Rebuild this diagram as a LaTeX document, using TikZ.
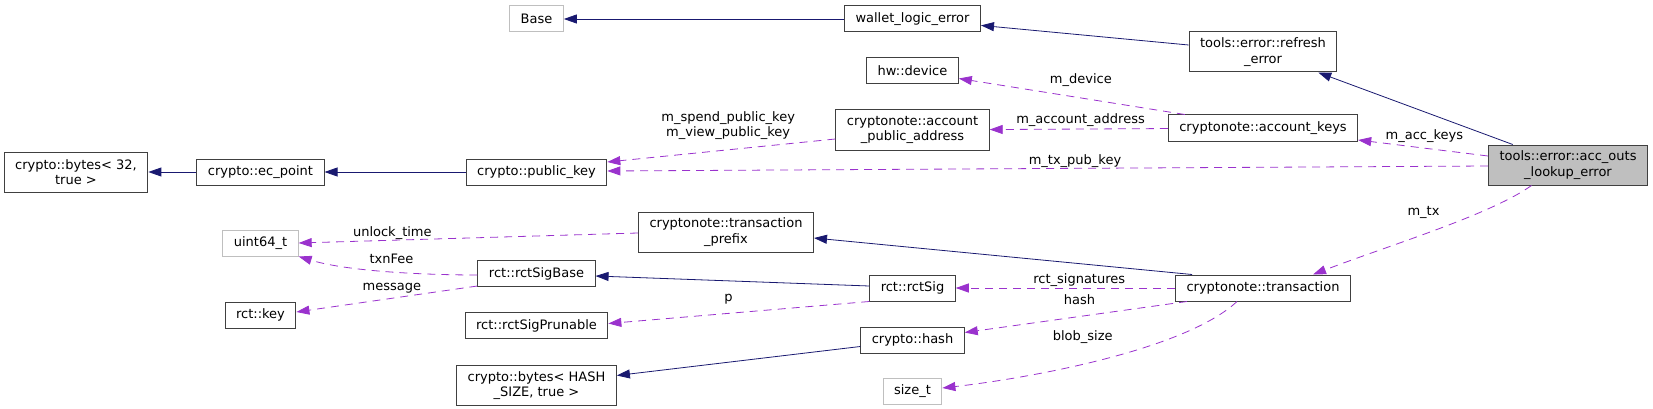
\documentclass[tikz,border=0pt]{standalone}
\usepackage{fontspec}
\setmainfont{DejaVu Sans}
\usetikzlibrary{arrows.meta, positioning}
\definecolor{inheritblue}{HTML}{191970}
\definecolor{memberpurple}{HTML}{9A32CD}
\definecolor{undocgray}{HTML}{BFBFBF}

\begin{document}
\begin{tikzpicture}[
        x=1pt, y=-1pt,
        box/.style={draw=black!75, line width=1pt, minimum height=26pt, inner xsep=11pt, inner ysep=2pt, align=center, fill=white, font=\fontsize{13}{15.5}\selectfont},
        twoline/.style={box, minimum height=40pt},
        undoc/.style={box, draw=undocgray},
        focus/.style={twoline, fill=undocgray},
        inherit/.style={-{Triangle[length=13pt, width=9pt]}, line width=0.8pt, draw=inheritblue},
        member/.style={-{Triangle[length=13pt, width=9pt]}, dash pattern=on 8pt off 6pt, line width=0.8pt, draw=memberpurple},
        lbl/.style={font=\fontsize{13}{15.5}\selectfont, inner sep=0pt, align=center}
    ]
    \useasboundingbox (0,0) rectangle (1653,409);

    \node[twoline] (bytes32) at (76,172) {crypto::bytes< 32,\\true >};
    \node[box] (ecpoint) at (260.5,172) {crypto::ec\_point};
    \node[undoc, below=44pt of ecpoint] (uint64) {uint64\_t};
    \node[box, below=45pt of uint64] (rctkey) {rct::key};

    \node[undoc] (base) at (536.5,19) {Base};
    \node[box] (pubkey) at (536.5,172) {crypto::public\_key};
    \node[box] (sigbase) at (536.5,273.5) {rct::rctSigBase};
    \node[box, below=25pt of sigbase] (prunable) {rct::rctSigPrunable};
    \node[twoline, below=26pt of prunable] (byteshash) {crypto::bytes< HASH\\\_SIZE, true >};

    \node[twoline] (txprefix) at (726,232) {cryptonote::transaction\\\_prefix};

    \node[box] (wlerror) at (912.5,19) {wallet\_logic\_error};
    \node[box, below=25pt of wlerror] (hwdevice) {hw::device};
    \node[twoline, below=25pt of hwdevice] (pubaddr) {cryptonote::account\\\_public\_address};
    \node[box] (rctsig) at (912.5,288) {rct::rctSig};
    \node[box, below=25pt of rctsig] (cryptohash) {crypto::hash};
    \node[undoc, below=24pt of cryptohash] (sizet) {size\_t};

    \node[twoline] (refresh) at (1263,52) {tools::error::refresh\\\_error};
    \node[box] (acckeys) at (1263,128) {cryptonote::account\_keys};
    \node[box] (tx) at (1263,288) {cryptonote::transaction};

    \node[focus] (lookuperr) at (1568,165) {tools::error::acc\_outs\\\_lookup\_error};

    \draw[inherit] (wlerror) -- (base);
    \draw[inherit] (refresh) -- (wlerror);
    \draw[inherit] (lookuperr) -- (refresh);
    \draw[inherit] (ecpoint) -- (bytes32);
    \draw[inherit] (pubkey) -- (ecpoint);
    \draw[inherit] ([xshift=17pt]tx.north west) -- ([yshift=-6pt]txprefix.east);
    \draw[inherit] ([yshift=2pt]rctsig.west) -- ([yshift=-2.5pt]sigbase.east);
    \draw[inherit] ([yshift=-6.5pt]cryptohash.west) -- ([yshift=10pt]byteshash.east);

    \draw[member] ([xshift=17pt]acckeys.north west) -- node[lbl, pos=0.46, yshift=18pt] {m\_device} ([yshift=-7.5pt]hwdevice.east);
    \draw[member] (acckeys) -- node[lbl, pos=0.49, yshift=9pt] {m\_account\_address} (pubaddr);
    \draw[member] ([yshift=-9pt]pubaddr.west) -- node[lbl, pos=0.47, yshift=24pt] {m\_spend\_public\_key\\m\_view\_public\_key} ([yshift=10pt]pubkey.east);
    \draw[member] ([yshift=-1pt]lookuperr.west) -- node[lbl, pos=0.469, yshift=7pt] {m\_tx\_pub\_key} ([yshift=1pt]pubkey.east);
    \draw[member] ([yshift=9pt]lookuperr.west) -- node[lbl, pos=0.49, yshift=12pt] {m\_acc\_keys} ([yshift=-12pt]acckeys.east);
    \draw[member] ([xshift=-36.5pt]lookuperr.south) .. controls (1490,215) and (1390,245) .. node[lbl, pos=0.55, yshift=22pt] {m\_tx} ([xshift=50pt]tx.north);

    \draw[member] ([yshift=-1pt]txprefix.west) -- node[lbl, pos=0.724, yshift=7.5pt] {unlock\_time} (uint64.east);
    \draw[member] ([yshift=-1.5pt]sigbase.west) .. controls (430,275) and (350,272) .. node[lbl, pos=0.49, yshift=12.5pt] {txnFee} (uint64.south east);
    \draw[member] ([yshift=-12.5pt]sigbase.west) -- node[lbl, pos=0.473, yshift=10pt] {message} ([yshift=3pt]rctkey.east);
    \draw[member] (rctsig.south west) -- node[lbl, pos=0.54, yshift=14pt] {p} ([yshift=2pt]prunable.east);
    \draw[member] (tx) -- node[lbl, pos=0.437, yshift=8pt] {rct\_signatures} (rctsig);
    \draw[member] ([xshift=12pt]tx.south west) -- node[lbl, pos=0.484, yshift=16.5pt] {hash} ([yshift=7.5pt]cryptohash.east);
    \draw[member] ([xshift=-26pt]tx.south) .. controls (1185,350) and (1030,378) .. node[lbl, pos=0.56, yshift=27pt] {blob\_size} ([yshift=3pt]sizet.east);

    \end{tikzpicture}
\end{document}
